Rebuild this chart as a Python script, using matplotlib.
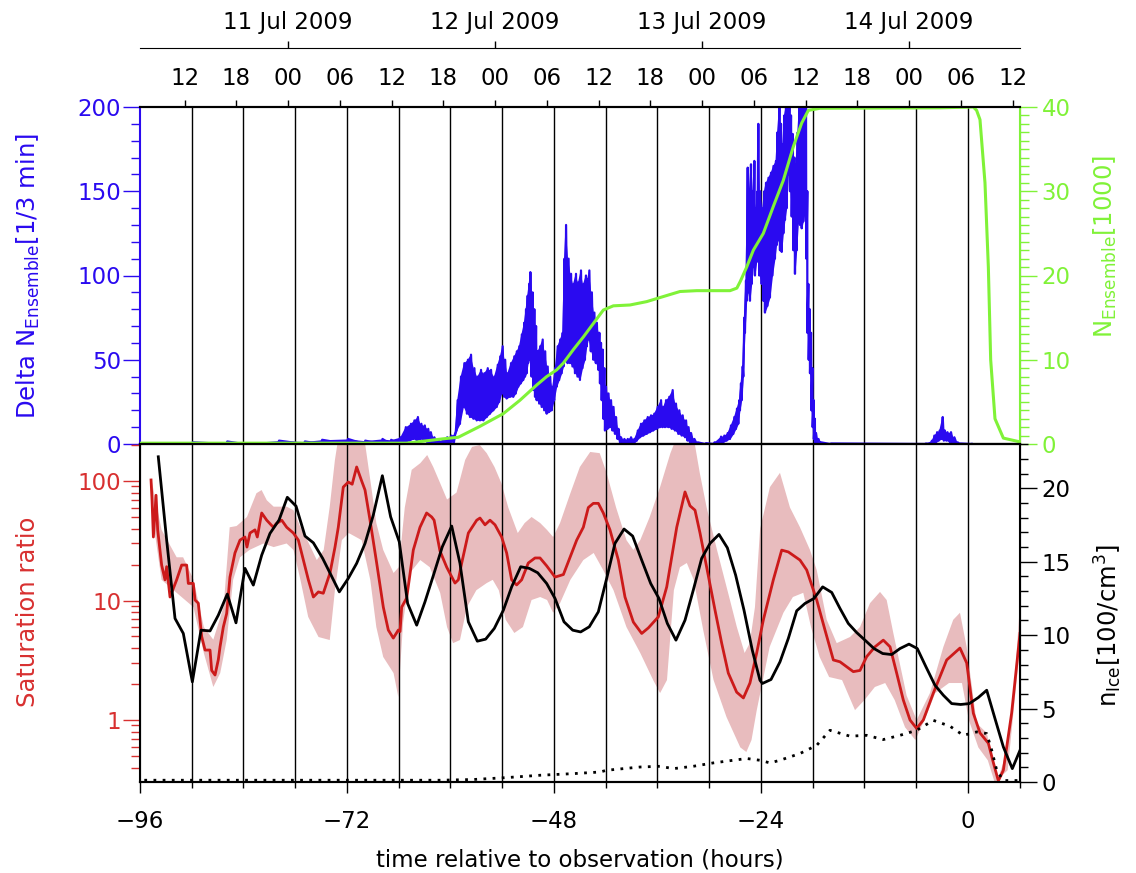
import numpy as np
import matplotlib
matplotlib.use('Agg')
import matplotlib.pyplot as plt
from matplotlib.ticker import FixedLocator, MultipleLocator, LogLocator, NullFormatter, FuncFormatter

# observation time: 14 Jul 2009 06:50 -> hours of each midnight relative to it
obs_hour = 6 + 50 / 60.
date_names = ['11 Jul 2009', '12 Jul 2009', '13 Jul 2009', '14 Jul 2009']
date_t = [-72 - obs_hour, -48 - obs_hour, -24 - obs_hour, -obs_hour]

# --- top panel: Delta N_Ensemble (envelope low / high) ---
blue_t = [-95.5, -90, -86, -84, -80, -77, -75, -72, -70, -68, -67,
          -65.9, -65.3, -64.7, -64.3, -63.9, -63.5, -63.1, -62.7, -62.4, -62.0, -61.5, -61.0, -60.5, -60.0, -59.6,
          -59.29, -58.9, -58.51, -58.1, -57.74, -57.35, -56.96, -56.58, -56.19, -55.8, -55.42, -55.03, -54.64,
          -54.35, -54.07, -53.78, -53.49, -53.1, -52.72, -52.43, -52.14, -51.85, -51.56, -51.36, -51.17, -51.0,
          -50.86, -50.6, -50.4, -50.2, -50.01, -49.72, -49.43, -49.14, -48.85, -48.56, -48.27, -47.98, -47.69,
          -47.4, -47.11, -46.9, -46.72, -46.43, -46.14, -45.86, -45.57, -45.28, -44.99, -44.7, -44.41, -44.2,
          -44.02, -43.73, -43.44, -43.15, -42.86, -42.67, -42.47, -42.28, -42.09, -41.8, -41.51, -41.22, -40.93,
          -40.64, -40.35, -39.96, -39.57, -39.19, -38.8, -38.4, -38.03, -37.64, -37.25, -36.87, -36.49, -36.1,
          -35.71, -35.42, -35.13, -34.75, -34.36, -33.98, -33.59, -33.2, -32.81, -32.52, -32.23, -31.84, -31.45,
          -30.5, -29.5, -28.75, -28.37, -27.98, -27.6, -27.21, -26.9, -26.63, -26.44, -26.24, -26.05, -25.86,
          -25.66, -25.47, -25.28, -25.08, -24.89, -24.7, -24.5, -24.43, -24.2, -23.92, -23.73, -23.54, -23.25,
          -22.96, -22.67, -22.38, -22.2, -21.99, -21.8, -21.6, -21.41, -21.22, -21.02, -20.83, -20.64, -20.44,
          -20.25, -20.06, -19.86, -19.67, -19.48, -19.28, -19.1, -18.9, -18.75, -18.63, -18.47, -18.32, -18.16,
          -18.01, -17.87, -17.74, -17.45, -17.16, -16.0, -5.0, -4.3, -4.02, -3.7, -3.4, -3.05, -2.8, -2.5, -2.09,
          -1.7, -1.31, -1.0, 0.3]
blue_lo = [0, 0, 0, 0, 0, 0, 0, 0, 0, 0, 0,
           0, 1, 2, 3, 2, 3, 2, 1, 0, 0, 0, 0, 0, 1, 1,
           8, 12, 22, 18, 16, 15, 14, 14, 14, 16, 18, 20, 22,
           25, 30, 28, 27, 28, 28, 30, 34, 36, 38, 40, 42, 48,
           50, 40, 32, 28, 26, 24, 22, 20, 18, 19, 20, 26, 34,
           38, 42, 46, 50, 48, 48, 46, 42, 40, 38, 45, 50, 58,
           62, 55, 50, 48, 44, 36, 26, 15, 8, 9, 10, 8, 6,
           3, 1, 0, 0, 0, 0, 2, 4, 5, 6, 7, 8, 9,
           10, 10, 10, 10, 9, 8, 6, 5, 4, 2, 1, 0, 0,
           0, 0, 0, 1, 2, 3, 6, 9, 12, 20, 26, 40, 66,
           85, 90, 85, 95, 105, 100, 108, 110, 100, 95, 85, 78, 82,
           87, 100, 110, 118, 121, 115, 114, 125, 133, 140, 160, 150, 135,
           115, 101, 115, 131, 130, 128, 132, 137, 110, 66, 50, 42, 20,
           10, 3, 0, 0, 0, 0, 0, 0, 0, 1, 2, 3, 2, 2, 1,
           0, 0, 0, 0]
blue_hi = [0.5, 1, 1.5, 0.5, 2, 1.5, 2.5, 3, 2, 3, 2.5,
           4, 10, 12, 14, 16, 12, 11, 9, 7, 4, 2, 2.5, 4, 5, 6,
           26, 40, 48, 50, 53, 45, 40, 44, 42, 45, 44, 40, 47,
           52, 58, 50, 42, 48, 52, 55, 58, 65, 72, 80, 88, 95,
           102, 90, 80, 70, 55, 58, 62, 55, 46, 40, 34, 45, 58,
           62, 66, 110, 130, 110, 101, 95, 101, 96, 103, 95, 100, 98,
           103, 90, 78, 72, 66, 60, 56, 45, 34, 30, 26, 22, 16,
           9, 4, 3, 3, 4, 3, 8, 12, 14, 16, 17, 18, 22,
           26, 22, 26, 28, 32, 24, 20, 17, 14, 10, 6.5, 3, 1,
           0.5, 1, 4.4, 5, 6.5, 11, 16, 21, 26, 36, 46, 75, 97,
           164, 150, 166, 150, 168, 140, 150, 190, 150, 140, 150, 155, 158,
           161, 165, 168, 185, 200, 190, 178, 195, 200, 200, 200, 195, 184,
           170, 166, 185, 200, 200, 200, 200, 200, 150, 95, 80, 66, 45,
           26, 15, 6.5, 3, 1, 0.3, 0.3, 2, 5, 7, 8, 16, 8, 7, 7,
           4, 1, 0.3, 0.1]

# --- top panel: N_Ensemble [1000] ---
green_t = [-96.0, -65.1, -63.0, -61.0, -59.1, -56.58, -53.88, -51.94, -50.01, -48.85, -47.69, -46.92,
           -45.76, -44.6, -43.44, -42.28, -41.12, -39.19, -37.25, -35.33, -33.39, -31.45, -27.59, -26.8,
           -26.4, -25.66, -24.89, -23.73, -22.57, -21.41, -20.25, -19.28, -18.51, -17.16, -3.3, 0.62,
           1.0, 1.39, 1.97, 2.36, 2.63, 3.13, 4.1, 6.03]
green_n = [0.1, 0.1, 0.35, 0.6, 0.8, 2.1, 3.6, 5.2, 7.0, 8.0, 8.8, 9.6,
           11.2, 12.7, 14.3, 15.9, 16.4, 16.5, 16.9, 17.5, 18.1, 18.2, 18.2, 18.5,
           19.3, 21.0, 23.0, 25.0, 28.2, 31.3, 35.3, 38.1, 39.6, 39.85, 39.9, 40.0,
           39.6, 38.5, 31.0, 21.0, 10.0, 3.0, 0.7, 0.25]

# --- bottom panel: saturation ratio (median and spread) ---
sat_t = [-94.72, -94.6, -94.45, -94.14, -93.95, -93.49, -93.1, -92.91, -92.52, -91.75, -91.17, -90.59,
         -90.4, -89.82, -89.62, -89.24, -89.04, -88.85, -88.46, -87.88, -87.69, -87.3, -86.92, -86.72,
         -86.34, -85.95, -85.57, -84.99, -84.41, -83.83, -83.6, -83.25, -82.67, -82.4, -81.89, -81.31,
         -80.54, -80.2, -79.57, -78.99, -78.22, -77.64, -77.06, -76.48, -75.9, -75.32, -74.75, -73.97,
         -73.39, -73.01, -72.43, -71.85, -71.4, -70.88, -70.3, -69.91, -69.33, -68.56, -67.79, -67.21,
         -66.63, -66.05, -65.85, -65.66, -65.08, -64.31, -63.54, -62.77, -62.18, -61.9, -61.22,
         -60.44, -59.48, -59.09, -58.7, -57.93, -56.96, -56.58, -56.0, -55.42, -54.84, -54.07, -53.49,
         -52.91, -52.33, -51.75, -50.98, -50.2, -49.62, -48.85, -47.88, -46.91, -46.14, -45.37, -44.6,
         -44.02, -43.44, -42.86, -42.28, -41.51, -40.54, -39.77, -38.8, -37.83, -37.06, -35.9, -34.93,
         -33.77, -32.81, -32.23, -31.65, -31.07, -30.3, -29.33, -28.56, -27.79, -26.82, -26.04, -25.28,
         -24.5, -23.73, -22.57, -21.6, -20.83, -19.48, -18.7, -17.54, -16.58, -15.61, -14.84, -14.07,
         -13.3, -12.52, -11.75, -10.78, -9.82, -9.04, -8.27, -7.5, -6.72, -5.95, -5.18, -4.02,
         -2.47, -0.93, -0.15, 0.62, 1.39, 2.36, 2.94, 3.52, 4.1, 5.06, 6.03]
sat_med = [102, 68, 34, 76, 39, 19.8, 14.9, 19.2, 10.7, 14.9, 19.8, 19.8,
           13.9, 13.9, 10.1, 9.5, 6.9, 5.0, 3.85, 3.85, 2.6, 2.38, 3.2, 4.1,
           6.0, 7.8, 15.7, 25, 32, 34, 28, 36.7, 39, 34, 54, 47,
           41, 44, 47, 41, 36.7, 32, 21.8, 14.9, 10.7, 11.8, 11.5, 17,
           28, 41, 89, 98, 94, 131, 100, 84, 47, 20.6, 8.8, 5.66,
           4.85, 5.66, 5.5, 8.8, 10.5, 26.5, 41, 54, 50, 47, 26,
           19, 14.0, 14.9, 20.6, 36.7, 47, 49, 43, 47, 43, 34, 25,
           14.9, 13.5, 14.9, 20.6, 22.7, 22.7, 19.5, 15.7, 16.5, 23, 32, 41,
           60, 65, 65, 54, 39, 21.8, 10.7, 6.6, 5.3, 5.9, 7.3, 13,
           41, 81, 62, 57, 36.7, 19, 8.3, 4.4, 2.47, 1.71, 1.53, 2.04,
           3.64, 6.87, 14.9, 26.4, 25.5, 21.8, 18.0, 10.1, 5.66, 3.18, 3.07, 2.79,
           2.54, 2.6, 3.39, 4.1, 4.66, 4.1, 2.47, 1.47, 1.0, 0.85, 1.0, 1.68,
           3.18, 4.0, 3.0, 1.14, 0.78, 0.64, 0.44, 0.31, 0.38, 1.14, 5.3]

hi_t = [-94.7, -93.5, -91.75, -91.0, -89.8, -88.6, -87.5, -86.3, -85.6, -84.8, -83.6, -82.5, -81.9,
        -81.3, -80.5, -79.0, -78.2, -77.4, -76.6, -75.5, -74.7, -74.0, -73.4, -73.0, -70.0, -69.3,
        -68.6, -67.8, -66.6, -66.0, -65.3, -64.5, -63.5, -62.7, -62.0, -61.2, -60.4, -59.3, -58.3,
        -57.5, -56.6, -55.8, -54.9, -54.1, -53.3, -52.2, -51.4, -50.6, -49.6, -48.8, -48.1, -47.3,
        -46.1, -45.0, -43.8, -42.7, -41.9, -40.8, -39.6, -38.8, -38.0, -36.9, -35.7, -34.5, -33.8,
        -31.8, -31.1, -30.3, -29.1, -27.6, -26.8, -25.9, -25.3, -24.7, -24.1, -22.96, -21.8, -20.64,
        -19.48, -18.32, -17.54, -16.38, -15.22, -13.68, -12.52, -11.36, -10.2, -9.43, -8.66, -7.11,
        -5.95, -4.41, -2.86, -1.71, -0.93, -0.15, 1.01, 2.17, 2.94, 3.52, 4.1, 5.26, 6.03]
sat_hi = [105, 39, 23, 23, 15, 6.0, 4.7, 8.9, 41, 42, 50, 79, 84,
          69, 61, 61, 57, 41, 32, 21.8, 26.5, 61, 150, 230, 230, 102,
          44.5, 26.5, 17, 19, 60, 124, 141, 165, 131, 96, 70, 80, 150,
          193, 200, 171, 131, 96, 60, 36.7, 44.5, 50, 44.5, 38.9, 34, 44.5,
          79, 131, 175, 171, 117, 60, 32, 26.5, 32, 50, 89, 171, 230,
          230, 117, 60, 26.5, 10.1, 6.0, 3.64, 4.4, 8.8, 40, 89, 117, 60,
          41, 26.5, 18, 6.9, 4.4, 4.95, 6.0, 9.5, 11.8, 10.1, 5.35, 1.6,
          1.0, 1.68, 4.08, 6.9, 7.9, 4.08, 0.94, 0.78, 0.46, 0.33, 0.44, 1.47, 9.5]

lo_t = [-94.7, -93.5, -91.75, -89.8, -88.6, -87.5, -86.7, -85.95, -85.2, -84.4, -83.3, -81.7, -80.5,
        -79.0, -78.2, -77.4, -76.5, -75.3, -74.0, -73.4, -72.6, -71.8, -70.3, -69.3, -68.6, -67.8,
        -66.6, -66.05, -65.5, -64.7, -63.5, -62.4, -61.2, -60.4, -59.7, -58.9, -58.1, -57.0, -55.8,
        -55.1, -54.4, -53.6, -52.6, -51.6, -50.6, -49.6, -48.8, -48.1, -47.3, -46.1, -44.6, -43.4,
        -42.3, -41.1, -39.6, -38.0, -36.5, -35.7, -34.9, -34.1, -33.4, -32.6, -31.8, -30.7, -29.5,
        -28.0, -26.4, -25.7, -25.1, -24.5, -23.0, -21.4, -20.3, -19.1, -18.2, -17.2, -16.1, -14.6,
        -13.1, -12.0, -10.8, -9.6, -8.5, -7.3, -6.1, -4.9, -3.8, -2.2, -0.7, 0.1, 1.2, 2.3, 3.1,
        4.6, 6.03]
sat_lo = [60, 14.9, 11.6, 8.8, 3.64, 1.89, 2.47, 4.67, 14.9, 23, 26.5, 30, 28,
          30, 26.5, 14.9, 7.3, 4.95, 4.67, 12.2, 32, 36.7, 32, 14.9, 6.0, 3.37,
          2.47, 1.56, 6.5, 17, 21.8, 19, 11.6, 6.0, 4.4, 4.67, 8.8, 12.2, 14,
          14.9, 12.2, 6.9, 5.35, 6.0, 10.1, 10.7, 10.1, 7.9, 9.5, 14.9, 21.8, 25,
          18, 12.2, 6.0, 3.64, 2.16, 1.68, 2.16, 12.2, 19, 20.6, 14.9, 5.66, 2.16,
          1.06, 0.59, 0.54, 0.68, 1.2, 4.08, 7.9, 10.7, 11.6, 6.0, 3.37, 2.29, 2.16,
          1.21, 1.47, 1.89, 2.04, 1.47, 0.87, 0.68, 1.06, 1.68, 2.04, 2.04, 1.0, 0.59, 0.46, 0.3,
          0.38, 4.08]

# --- bottom panel: n_Ice [100/cm^3] ---
ice_t = [-93.88, -92.91, -91.94, -90.98, -89.93, -88.93, -87.88, -86.92, -85.88, -84.87, -83.83, -82.86,
         -81.89, -80.93, -79.88, -78.92, -77.91, -76.87, -75.9, -74.82, -73.85, -72.89, -71.85, -70.88,
         -69.91, -68.95, -67.9, -66.94, -65.94, -64.97, -63.92, -62.96, -61.91, -60.95, -59.86, -58.9,
         -57.93, -56.89, -55.92, -54.92, -53.87, -52.91, -51.86, -50.86, -49.89, -48.85, -47.88, -46.84,
         -45.83, -44.91, -43.91, -42.86, -41.89, -40.93, -39.88, -38.88, -37.83, -36.79, -35.83, -34.86,
         -33.86, -32.81, -31.85, -30.88, -29.91, -28.87, -27.9, -26.94, -25.97, -25.01, -24.12, -23.84,
         -22.84, -21.8, -20.83, -19.86, -18.9, -17.86, -16.85, -15.8, -14.84, -13.88, -12.91, -11.94,
         -10.9, -9.89, -8.85, -7.88, -6.84, -5.88, -4.87, -3.83, -2.86, -1.89, -0.85, 0.15, 1.19, 2.17,
         3.13, 4.1, 5.14, 6.03]
ice_n = [22.15, 16.48, 11.14, 10.12, 6.82, 10.34, 10.29, 11.36, 12.8, 10.84, 14.55, 13.41,
         15.45, 16.93, 17.84, 19.39, 18.79, 16.75, 16.29, 15.23, 14.09, 12.95, 13.87, 14.89,
         16.25, 18.18, 20.86, 18.06, 16.36, 12.16, 10.68, 12.27, 14.21, 16.02, 17.43, 14.89,
         10.91, 9.59, 9.73, 10.46, 11.7, 13.29, 14.66, 14.55, 14.25, 13.52, 12.5, 10.91,
         10.34, 10.22, 10.57, 11.59, 13.87, 16.25, 17.23, 16.75, 15.11, 13.52, 12.5, 10.8,
         9.66, 11.02, 13.07, 15.23, 16.25, 16.86, 15.95, 14.09, 11.7, 8.98, 6.93, 6.71,
         6.98, 8.18, 9.78, 11.66, 12.16, 12.5, 13.29, 12.91, 11.82, 10.8, 10.18, 9.66,
         9.09, 8.75, 8.68, 9.09, 9.39, 9.09, 7.84, 6.59, 5.91, 5.34, 5.28, 5.34, 5.75, 6.25,
         4.32, 2.39, 0.91, 2.16]

dot_t = [-95.5, -61.22, -57.35, -53.49, -49.62, -45.76, -42.67, -41.89, -38.03, -35.71, -34.17, -31.85,
         -29.53, -27.21, -25.66, -24.12, -22.96, -21.8, -19.48, -17.54, -16.0, -13.68, -11.75, -9.82,
         -7.88, -5.95, -4.02, -2.09, -0.54, 1.01, 2.17, 2.75, 3.33, 4.1, 6.03]
dot_n = [0.12, 0.12, 0.17, 0.3, 0.46, 0.57, 0.68, 0.8, 1.02, 1.07, 0.91, 1.07,
         1.3, 1.48, 1.6, 1.48, 1.3, 1.48, 1.94, 2.5, 3.52, 3.12, 3.18, 2.89,
         3.18, 3.52, 4.2, 3.8, 3.18, 3.41, 3.3, 2.16, 0.8, 0.1, 0.1]

BLUE = '#2a0af0'
GREEN = '#80f238'
RED = '#cc1a1a'
RED_TXT = '#d83030'
PINK = '#e8bcbe'
FS = 16.5

plt.rcParams['font.family'] = 'DejaVu Sans'
plt.rcParams['mathtext.default'] = 'regular'
plt.rcParams['axes.unicode_minus'] = True

fig = plt.figure(figsize=(11.36, 8.73), dpi=100)
L, W = 140 / 1136, 880 / 1136
ax1 = fig.add_axes([L, 1 - 444 / 873, W, 337 / 873])
ax2 = fig.add_axes([L, 1 - 782 / 873, W, 338 / 873])
ax1g = ax1.twinx()
ax2n = ax2.twinx()

grid_t = np.arange(-90, 1, 6)

# top panel
for g in grid_t:
    ax1.axvline(g, color='k', lw=1.0, zorder=1)
ax1.fill_between(blue_t, blue_lo, blue_hi, color=BLUE, lw=0, zorder=2)
zx = np.column_stack([blue_t, np.array(blue_t) + 0.12]).ravel()
zy = np.column_stack([blue_lo, blue_hi]).ravel()
ax1.plot(zx, zy, color=BLUE, lw=1.6, zorder=3)
ax1.set_xlim(-96, 6.03)
ax1.set_ylim(0, 200)
ax1g.plot(green_t, green_n, color=GREEN, lw=2.2)
ax1g.set_ylim(0, 40)

ax1.yaxis.set_major_locator(MultipleLocator(50))
ax1.yaxis.set_minor_locator(MultipleLocator(10))
ax1.tick_params(axis='y', which='major', length=12.5, width=1, colors=BLUE, labelsize=FS, pad=1)
ax1.tick_params(axis='y', which='minor', length=6.5, width=1, colors=BLUE)
ax1.spines['left'].set_color(BLUE)
ax1.spines['left'].set_linewidth(1.5)
ax1g.yaxis.set_major_locator(MultipleLocator(10))
ax1g.yaxis.set_minor_locator(MultipleLocator(1))
ax1g.tick_params(axis='y', which='major', length=12.5, width=1, colors=GREEN, labelsize=FS, pad=3)
ax1g.tick_params(axis='y', which='minor', length=6.5, width=1, colors=GREEN)
ax1g.spines['right'].set_color(GREEN)
ax1g.spines['right'].set_linewidth(1.5)
ax1g.spines['left'].set_visible(False)

# hour ticks on top of upper panel
hour_t = [date_t[0] - 12 + 6 * k for k in range(17)]
hour_lab = ['%02d' % ((12 + 6 * k) % 24) for k in range(17)]
ax1.xaxis.set_ticks_position('top')
ax1.xaxis.set_major_locator(FixedLocator(hour_t))
ax1.set_xticklabels(hour_lab)
ax1.tick_params(axis='x', which='major', direction='out', length=5, width=1, labelsize=FS, pad=7)

# date axis line
axd = fig.add_axes([L, 1 - 48 / 873, W, 0.0001])
for s in ['left', 'right', 'bottom']:
    axd.spines[s].set_visible(False)
axd.set_xlim(-96, 6.03)
axd.set_yticks([])
axd.xaxis.set_ticks_position('top')
axd.set_xticks(date_t)
axd.set_xticklabels(date_names)
axd.tick_params(axis='x', direction='out', length=5, width=1, labelsize=FS, pad=5)
axd.patch.set_visible(False)

# bottom panel
ax2.set_yscale('log')
ax2.fill(np.r_[hi_t, lo_t[::-1]], np.r_[sat_hi, sat_lo[::-1]], color=PINK, lw=0, zorder=1)
for g in grid_t:
    ax2.axvline(g, color='k', lw=1.0, zorder=2)
ax2.plot(sat_t, sat_med, color=RED, lw=2.0, zorder=3)
ax2.set_xlim(-96, 6.03)
ax2.set_ylim(0.303, 204)
ax2.yaxis.set_major_locator(FixedLocator([1, 10, 100]))
ax2.yaxis.set_major_formatter(FuncFormatter(lambda v, p: '%d' % v))
ax2.yaxis.set_minor_locator(LogLocator(base=10, subs=np.arange(2, 10)))
ax2.yaxis.set_minor_formatter(NullFormatter())
ax2.tick_params(axis='y', which='major', length=12.5, width=1, colors=RED_TXT, labelsize=FS, pad=1)
ax2.tick_params(axis='y', which='minor', length=6.5, width=1, colors=RED_TXT)
ax2.xaxis.set_major_locator(MultipleLocator(24))
ax2.xaxis.set_minor_locator(MultipleLocator(6))
ax2.xaxis.set_major_formatter(FuncFormatter(lambda v, p: ('\u2212%d' % -v) if v < 0 else '%d' % v))
ax2.tick_params(axis='x', which='major', direction='out', length=8, width=1, labelsize=FS, pad=12)
ax2.tick_params(axis='x', which='minor', direction='out', length=4.5, width=1)
ax2.set_xlabel('time relative to observation (hours)', fontsize=FS, labelpad=11)

ax2n.plot(ice_t, ice_n, color='k', lw=2.0)
ax2n.plot(dot_t, dot_n, color='k', lw=2.0, dashes=(1, 2.3), dash_capstyle='butt')
ax2n.set_ylim(0, 23.02)
ax2n.yaxis.set_major_locator(MultipleLocator(5))
ax2n.yaxis.set_minor_locator(MultipleLocator(1))
ax2n.tick_params(axis='y', which='major', length=12.5, width=1, labelsize=FS, pad=3)
ax2n.tick_params(axis='y', which='minor', length=6, width=1)

for a in (ax1, ax2, ax1g, ax2n):
    for s in ['top', 'bottom']:
        a.spines[s].set_linewidth(1.5)
ax2.spines['left'].set_linewidth(1.5)
ax2n.spines['right'].set_linewidth(1.5)

fig.text(28 / 1136, 1 - 276 / 873, r'Delta N$_{Ensemble}$[1/3 min]', color=BLUE, fontsize=FS + 1,
         rotation=90, ha='center', va='center')
fig.text(28 / 1136, 1 - 612 / 873, 'Saturation ratio', color=RED_TXT, fontsize=FS + 1,
         rotation=90, ha='center', va='center')
fig.text(1105 / 1136, 1 - 247 / 873, r'N$_{Ensemble}$[1000]', color=GREEN, fontsize=FS + 1,
         rotation=90, ha='center', va='center')
fig.text(1108 / 1136, 1 - 625 / 873, r'n$_{Ice}$[100/cm$^{3}$]', color='k', fontsize=FS + 1,
         rotation=90, ha='center', va='center')

fig.savefig('out.png', dpi=100)
